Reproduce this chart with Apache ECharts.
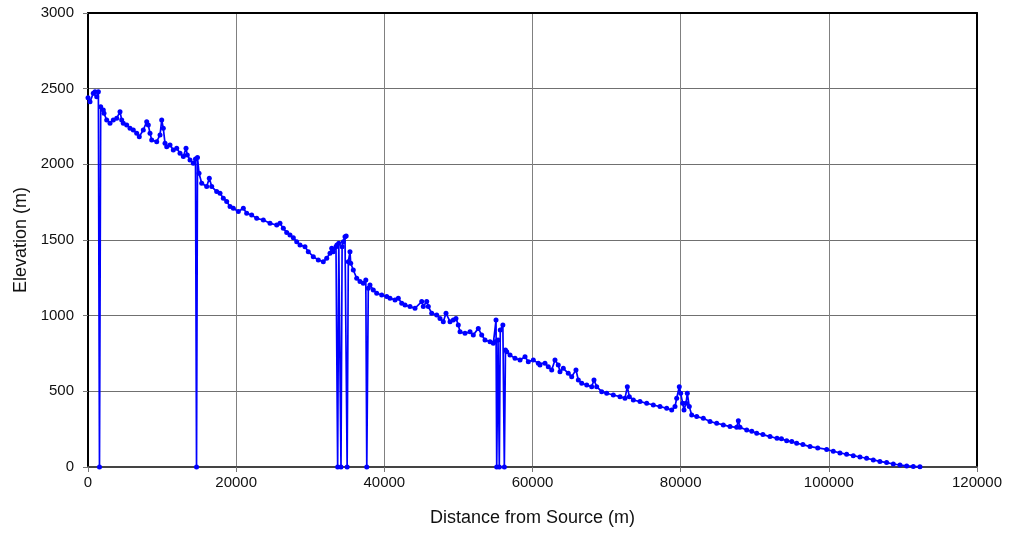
<!DOCTYPE html>
<html>
<head>
<meta charset="utf-8">
<script src="https://cdn.jsdelivr.net/npm/echarts@6/dist/echarts.min.js"></script>
<style>
html,body{margin:0;padding:0;background:#fff;}
#chart{width:1015px;height:533px;}
</style>
</head>
<body>
<div id="chart"></div>
<script>
// Distance from source (m)
const distance = [
  0, 270, 715, 945, 1175, 1400, 1550, 1715, 2065, 2160, 2525, 2970, 3415, 3875, 4320, 4550, 4765, 5225, 5670, 6115,
  6575, 6925, 7465, 7925, 8140, 8370, 8600, 9275, 9720, 9950, 10165, 10395, 10625, 11070, 11515, 11975, 12420, 12870, 13230, 13405,
  13770, 14215, 14510, 14650, 14780, 14985, 15350, 16020, 16375, 16700, 17370, 17820, 18265, 18720, 19170, 19615, 20290, 20965, 21420, 22095,
  22770, 23665, 24570, 25470, 25915, 26365, 26820, 27265, 27715, 28170, 28615, 29290, 29735, 30410, 31085, 31760, 32220, 32665, 32895, 33110,
  33475, 33600, 33700, 33850, 34150, 34300, 34460, 34690, 34850, 34980, 35135, 35365, 35460, 35810, 36270, 36715, 37160, 37500, 37630, 37835,
  38065, 38510, 38970, 39645, 40320, 40765, 41440, 41885, 42345, 42790, 43465, 44140, 45045, 45260, 45720, 45935, 46395, 47070, 47515, 47960,
  48325, 48865, 49310, 49670, 49985, 50215, 50890, 51565, 52010, 52685, 53145, 53590, 54265, 54710, 54945, 55075, 55170, 55350, 55520, 55650,
  56000, 56200, 56350, 56520, 56965, 57640, 58315, 58990, 59435, 60110, 60785, 61010, 61685, 62130, 62590, 63035, 63480, 63710, 64155, 64830,
  65290, 65870, 66185, 66645, 67320, 67990, 68300, 68665, 69340, 70015, 70905, 71810, 72485, 72800, 73070, 73610, 74510, 75415, 76305, 77210,
  78115, 78790, 79235, 79465, 79815, 80000, 80270, 80450, 80720, 80895, 81165, 81490, 82165, 83055, 83960, 84865, 85755, 86660, 87560, 87785,
  88010, 88915, 89600, 90265, 91100, 92060, 93000, 93600, 94310, 95000, 95660, 96500, 97460, 98500, 99710, 100600, 101500, 102400, 103300, 104200,
  105100, 106000, 106890, 107800, 108700, 109600, 110510, 111400, 112300
];
// Elevation (m)
const elevation = [
  2440, 2414, 2469, 2480, 2447, 2480, 0, 2381, 2359, 2337, 2293, 2271, 2293, 2304, 2348, 2293, 2271, 2260, 2238, 2227,
  2205, 2183, 2227, 2282, 2260, 2205, 2161, 2150, 2194, 2293, 2238, 2139, 2117, 2128, 2095, 2106, 2073, 2051, 2106, 2062,
  2029, 2007, 2035, 0, 2045, 1941, 1875, 1853, 1908, 1853, 1820, 1809, 1776, 1754, 1721, 1710, 1688, 1710, 1677, 1665,
  1643, 1632, 1610, 1599, 1610, 1577, 1550, 1533, 1515, 1489, 1467, 1456, 1423, 1390, 1368, 1357, 1379, 1412, 1445, 1423,
  1456, 1467, 0, 1478, 0, 1456, 1489, 1522, 1526, 0, 1357, 1423, 1346, 1302, 1247, 1225, 1214, 1236, 0, 1181,
  1203, 1170, 1148, 1137, 1126, 1115, 1104, 1115, 1082, 1071, 1060, 1049, 1093, 1060, 1093, 1060, 1016, 1004, 982, 960,
  1016, 960, 971, 982, 938, 894, 883, 894, 872, 916, 872, 839, 828, 817, 828, 971, 0, 839, 0, 905,
  938, 0, 773, 762, 740, 718, 707, 729, 696, 707, 685, 674, 685, 663, 641, 707, 674, 630, 652, 619,
  597, 641, 575, 553, 542, 531, 575, 531, 498, 487, 476, 465, 454, 531, 465, 443, 432, 421, 410, 399,
  388, 377, 399, 454, 531, 487, 421, 377, 421, 487, 399, 344, 333, 322, 300, 289, 278, 267, 262, 306,
  262, 245, 236, 223, 214, 201, 190, 186, 174, 168, 157, 148, 135, 126, 116, 104, 93, 84, 75, 66,
  58, 47, 37, 29, 20, 13, 7, 4, 2
];
const xTicks = { min: 0, max: 120000, step: 20000 };
const yTicks = { min: 0, max: 3000, step: 500 };

const points = distance.map((d, i) => [d, elevation[i]]);
const font = "'Liberation Sans', Arial, sans-serif";
const frame = { show: true, onZero: false, lineStyle: { color: '#000', width: 2 } };
const plain = v => String(v);

const chart = echarts.init(document.getElementById('chart'), null, { renderer: 'canvas' });
chart.setOption({
  animation: false,
  backgroundColor: '#fff',
  grid: { left: 88, right: 38, top: 13, bottom: 66 },
  xAxis: [{
    type: 'value', position: 'bottom',
    min: xTicks.min, max: xTicks.max, interval: xTicks.step,
    name: 'Distance from Source (m)',
    nameLocation: 'middle', nameGap: 42,
    nameTextStyle: { fontFamily: font, fontSize: 18, color: '#111' },
    axisLine: { show: true, onZero: false, lineStyle: { color: '#444', width: 2 } },
    axisTick: { show: true, inside: false, length: 5, lineStyle: { color: '#777' } },
    axisLabel: { fontFamily: font, fontSize: 15, color: '#111', margin: 8, formatter: plain },
    splitLine: { show: true, lineStyle: { color: '#808080', width: 1 } }
  }, {
    type: 'value', position: 'top',
    min: xTicks.min, max: xTicks.max, interval: xTicks.step,
    axisLine: frame, axisTick: { show: false }, axisLabel: { show: false }, splitLine: { show: false }
  }],
  yAxis: [{
    type: 'value', position: 'left',
    min: yTicks.min, max: yTicks.max, interval: yTicks.step,
    name: 'Elevation (m)',
    nameLocation: 'middle', nameGap: 55, nameRotate: 90,
    nameTextStyle: { fontFamily: font, fontSize: 18, color: '#111' },
    axisLine: frame,
    axisTick: { show: true, inside: false, length: 5, lineStyle: { color: '#777' } },
    axisLabel: { fontFamily: font, fontSize: 15, color: '#111', margin: 14, formatter: plain },
    splitLine: { show: true, lineStyle: { color: '#707070', width: 1 } }
  }, {
    type: 'value', position: 'right',
    min: yTicks.min, max: yTicks.max, interval: yTicks.step,
    axisLine: frame, axisTick: { show: false }, axisLabel: { show: false }, splitLine: { show: false }
  }],
  series: [{
    type: 'line',
    data: points,
    showSymbol: true,
    showAllSymbol: true,
    symbol: 'circle',
    symbolSize: 5,
    itemStyle: { color: '#0000ff' },
    lineStyle: { color: '#0000ff', width: 1.7 },
    z: 3
  }]
});
</script>
</body>
</html>
